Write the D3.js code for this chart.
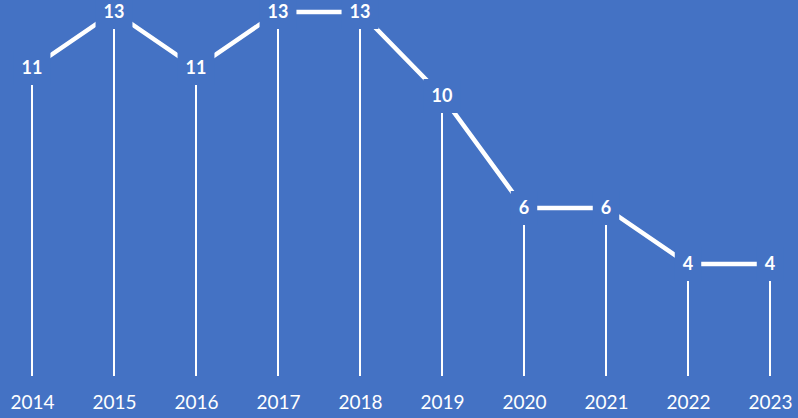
<!DOCTYPE html>
<html><head><meta charset="utf-8">
<script src="https://cdn.jsdelivr.net/npm/d3@7"></script>
<style>html,body{margin:0;padding:0;background:#4472C4;}svg{display:block;}</style>
</head><body>
<script>
const years = ["2014","2015","2016","2017","2018","2019","2020","2021","2022","2023"];
const values = [11,13,11,13,13,10,6,6,4,4];

const W = 798, H = 418, bg = "#4472C4";
const svg = d3.select("body").append("svg").attr("width", W).attr("height", H);
svg.append("rect").attr("width", W).attr("height", H).attr("fill", bg);

const x = d3.scalePoint().domain(years).range([32, 770]);
const y = d3.scaleLinear().domain([0, 13]).range([376, 12]);

// drop lines
svg.append("g").selectAll("line").data(years).join("line")
  .attr("x1", (d) => x(d)).attr("x2", (d) => x(d))
  .attr("y1", (d, i) => y(values[i])).attr("y2", y(0))
  .attr("stroke", "#fff").attr("stroke-width", 2);

// main line
svg.append("path").datum(values)
  .attr("d", d3.line().x((d, i) => x(years[i])).y((d) => y(d)))
  .attr("fill", "none").attr("stroke", "#fff").attr("stroke-width", 4.5);

// labels with background boxes
const lg = svg.append("g");
values.forEach((v, i) => {
  const g = lg.append("g").attr("transform", `translate(${x(years[i])},${y(v)})`);
  const r = g.append("rect").attr("fill", bg);
  const t = g.append("text").text(v)
    .attr("text-anchor", "middle").attr("dy", "0.36em")
    .attr("font-family", "Lato, 'Open Sans', sans-serif").attr("font-weight", "bold")
    .attr("font-size", 18).attr("fill", "#fff");
  const w = t.node().getComputedTextLength();
  r.attr("x", -w / 2 - 8).attr("y", -17).attr("width", w + 16).attr("height", 34);
});

// x axis labels
const xAxis = d3.axisBottom(x).tickSize(0).tickPadding(0);
const ag = svg.append("g").attr("transform", `translate(0,${395})`).call(xAxis);
ag.select(".domain").remove();
ag.selectAll("text").attr("fill", "#fff").attr("font-size", 19)
  .attr("font-family", "Lato, 'Open Sans', sans-serif").attr("dy", "0.71em");
</script>
</body></html>
